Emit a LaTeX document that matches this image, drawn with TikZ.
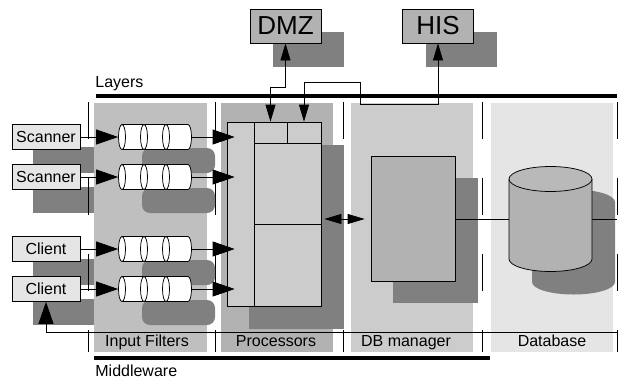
\documentclass[tikz,border=0pt]{standalone}
\usepackage{fontspec}
\setmainfont{Liberation Sans}
\usetikzlibrary{arrows.meta}

\begin{document}
\begin{tikzpicture}
  [x=1pt, y=-1pt, line width=0.75pt,
  font=\fontsize{16}{19}\selectfont,
  box/.style={draw, fill=gray!20, inner sep=0pt, minimum width=68pt, minimum height=25pt},
  ext/.style={draw, fill=gray!60, inner sep=0pt, minimum width=71pt, minimum height=34pt,
    font=\fontsize{26}{30}\selectfont},
  cell/.style={draw, fill=gray!40, inner sep=0pt, minimum height=21pt},
  hollow/.style={inner sep=0pt},
  drop/.style={fill=gray},
  divider/.style={dash pattern=on 37pt off 39pt},
  band/.style={line width=4pt},
  tag/.style={anchor=base, inner sep=0pt},
  big/.style={-{Triangle[length=22pt,width=15pt]}},
  small/.style={{Triangle[length=17pt,width=10pt]}-{Triangle[length=17pt,width=10pt]}}]
  \useasboundingbox (0,0) rectangle (620,378);

  % shadows of the sources sit under the filter lane
  \foreach \y in {137,177,249,289}
    \fill[drop] (33,\y+10) rectangle (101,\y+36);

  % lanes
  \fill[gray!50] (94,103) rectangle (207,352);
  \fill[gray!60] (221,103) rectangle (333,352);
  \fill[gray!40] (351,103) rectangle (473,352);
  \fill[gray!20] (491,103) rectangle (613,352);
  \foreach \x in {88,215,343,482,617}
    \draw[divider] (\x,102) -- (\x,352);

  % shadows
  \foreach \y in {137,177,249,289}
    \fill[drop, rounded corners=8pt] (142,\y+11) rectangle (215,\y+36);
  \fill[drop] (249,145) rectangle (344,329);
  \fill[drop] (393,178) rectangle (478,303);
  \fill[drop] (532,202) -- (532,282)
    arc[start angle=180, end angle=360, x radius=41.5pt, y radius=12.5pt] -- (615,202)
    arc[start angle=0, end angle=180, x radius=41.5pt, y radius=12.5pt] -- cycle;
  \fill[drop] (273,32) rectangle (344,67);
  \fill[drop] (426,32) rectangle (497,67);

  % layer bands
  \draw[band] (96,95.5) -- (617,95.5);
  \draw[band] (94,358) -- (490,358);
  \node[anchor=base west, inner sep=0pt] (layers) at (95,87) {Layers};
  \node[anchor=base west, inner sep=0pt] (middleware) at (95,376) {Middleware};
  \node[tag] (filters) at (147,346) {Input Filters};
  \node[tag] (processors) at (276,346) {Processors};
  \node[tag] (manager) at (406,346) {DB manager};
  \node[tag] (database) at (552,346) {Database};

  % sources
  \node[box] (scan1) at (46,137) {Scanner};
  \node[box] (scan2) at (46,177) {Scanner};
  \node[box] (cli1) at (46,249) {Client};
  \node[box] (cli2) at (46,289) {Client};

  % queues
  \foreach \n/\y in {1/137,2/177,3/249,4/289} {
    \node[hollow, minimum width=73pt, minimum height=25pt] (q\n) at (155,\y) {};
    \draw[fill=white] (122,\y-12.5) -- (188,\y-12.5)
      arc[start angle=90, end angle=-90, x radius=3.5pt, y radius=12.5pt] -- (122,\y+12.5) -- cycle;
    \foreach \x in {122,144,166}
      \draw[fill=white] (\x,\y) ellipse[x radius=3.5pt, y radius=12.5pt];
  }

  % processors
  \node[draw, fill=gray!40, inner sep=0pt, minimum width=94pt, minimum height=184pt] (proc) at (274,214) {};
  \node[cell, minimum width=33pt] (cell1) at (270.5,132.5) {};
  \node[cell, minimum width=34pt] (cell2) at (304,132.5) {};
  \draw (254,122) -- (254,306);
  \draw (254,224) -- (321,224);

  % db manager and store
  \node[draw, fill=gray!60, inner sep=0pt, minimum width=84pt, minimum height=125pt] (dbm) at (413,219) {};
  \node[hollow, minimum width=83pt, minimum height=104pt] (store) at (550.5,219) {};
  \draw[fill=gray!60] (509,179) -- (509,259)
    arc[start angle=180, end angle=360, x radius=41.5pt, y radius=12.5pt] -- (592,179);
  \draw[fill=gray!55] (550.5,179) ellipse[x radius=41.5pt, y radius=12.5pt];

  % external systems
  \node[ext] (dmz) at (285.5,26) {DMZ};
  \node[ext] (his) at (438,26) {HIS};

  % connectors
  \foreach \src/\q in {scan1/q1,scan2/q2,cli1/q3,cli2/q4} {
    \draw[big] (\src) -- (\q);
    \draw[big, shorten >=-8pt] (\q) -- (proc.west |- \q);
  }
  \draw[small, shorten <=3pt, shorten >=6pt] (proc.east |- dbm) -- (dbm);
  \draw (dbm) -- (store);
  \coordinate (edge) at (617,219);
  \draw (store) -- (edge);
  \coordinate (back) at (617,332);
  \draw[big] (back) -| (cli2);
  \draw[small] (dmz.south) -- ++(0,44) -| (cell1.north);
  \draw[small] (his.south) -- ++(0,61) -- ++(-78,0) -- ++(0,-22) -| (cell2.north);
\end{tikzpicture}
\end{document}
